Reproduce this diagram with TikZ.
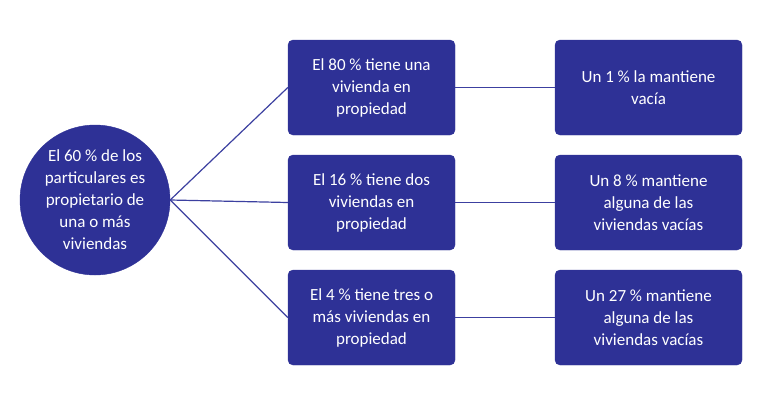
\documentclass[tikz,border=0pt]{standalone}
\usepackage{fontspec}
\setmainfont{Carlito}
\definecolor{boxblue}{RGB}{46,49,150}
\definecolor{linkblue}{RGB}{60,64,160}
\begin{document}
\begin{tikzpicture}[x=1pt,y=-1pt,
    total/.style={circle, fill=boxblue, draw=boxblue, text=white, minimum size=150pt, inner sep=0pt, align=center, font=\fontsize{17}{22}\selectfont},
    share/.style={rectangle, fill=boxblue, draw=boxblue, text=white, rounded corners=5pt, minimum width=167pt, minimum height=95pt, align=center, font=\fontsize{17}{22}\selectfont},
    empty/.style={share, minimum width=187pt},
    every edge/.style={draw, linkblue, line width=1.2pt}
]
\useasboundingbox (0,0) rectangle (768,400);

\node[total] (T) at (95,200) {El 60 \% de los\\particulares es\\propietario de\\una o más\\viviendas};

\node[share] (S-1) at (371.5,87.5) {El 80 \% tiene una\\vivienda en\\propiedad};
\node[share] (S-2) at (371.5,202.5) {El 16 \% tiene dos\\viviendas en\\propiedad};
\node[share] (S-3) at (371.5,317.5) {El 4 \% tiene tres o\\más viviendas en\\propiedad};

\node[empty] (E-1) at (648.5,87.5) {Un 1 \% la mantiene\\vacía};
\node[empty] (E-2) at (648.5,202.5) {Un 8 \% mantiene\\alguna de las\\viviendas vacías};
\node[empty] (E-3) at (648.5,317.5) {Un 27 \% mantiene\\alguna de las\\viviendas vacías};

% Connections
\foreach \i in {1,2,3}
    \path (T.east) edge (S-\i.west)
          (S-\i) edge (E-\i);

\end{tikzpicture}
\end{document}
